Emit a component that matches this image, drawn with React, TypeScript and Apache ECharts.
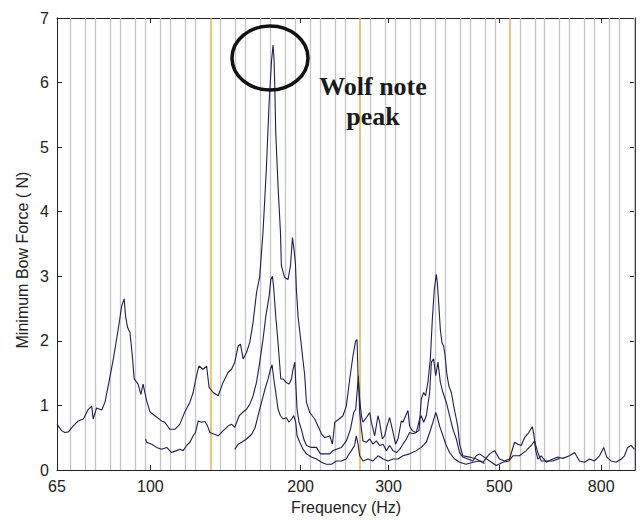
import React, { useEffect, useRef } from "react";
import * as echarts from "echarts";

// ---- axis settings ----
const X_MIN = 65;
const X_MAX = 935;
const xTickLabels = [65, 100, 200, 300, 500, 800];
const Y_MIN = 0;
const Y_MAX = 7;

// ---- data: [frequency (Hz), minimum bow force (N)] ----
const curveA: [number, number][] = [
  [65, 0.71], [66.4, 0.61], [67.4, 0.58], [68.5, 0.59], [70.0, 0.68], [71.7, 0.76], [73.4, 0.79],
  [75.1, 0.94], [76.3, 0.99], [76.8, 0.79], [78.0, 0.96], [79.9, 0.93], [81.1, 1.05], [82.3, 1.3],
  [84.3, 1.72], [86.2, 2.18], [87.6, 2.54], [88.6, 2.65], [89.2, 2.38], [90.0, 2.21], [91.0, 2.13],
  [92.0, 1.77], [92.8, 1.41], [94.5, 1.33], [95.7, 1.17], [96.7, 1.33], [97.5, 1.2], [98.3, 1.07],
  [99.8, 0.9], [102.1, 0.84], [105.3, 0.76], [106.9, 0.74], [109.4, 0.63], [112.0, 0.63], [114.6, 0.71],
  [117.2, 0.9], [120.0, 1.05], [121.8, 1.2], [123.7, 1.46], [125.1, 1.61], [127.5, 1.56], [129.6, 1.61],
  [131.1, 1.28], [133.6, 1.2], [136.7, 1.15], [139.9, 1.36], [143.1, 1.51], [145.4, 1.56], [147.6, 1.67],
  [149.9, 1.92], [151.5, 1.95], [153.4, 1.72], [155.8, 1.82], [158.2, 1.98], [160.6, 2.29], [163.2, 2.75],
  [165.6, 3.0], [168.1, 3.68], [170.7, 4.65], [172.9, 5.68], [174.9, 6.35], [176.1, 6.58], [176.9, 6.35],
  [177.5, 5.94], [178.3, 5.22], [180.2, 4.39], [182.2, 3.68], [183.0, 3.16], [185.8, 2.98], [188.7, 2.95],
  [190.8, 3.16], [192.6, 3.6], [193.9, 3.42], [195.2, 3.21], [196.1, 2.8], [197.6, 2.38], [200.7, 1.92],
  [203.8, 1.46], [205.4, 1.05], [208.6, 0.89], [213.4, 0.79], [216.7, 0.68], [220.1, 0.56], [223.4, 0.5],
  [228.7, 0.53], [231.5, 0.4], [234.1, 0.74], [238.7, 0.79], [243.1, 0.84], [246.9, 0.99], [250.8, 1.41],
  [254.6, 1.77], [257.8, 2.0], [259.4, 2.02], [260.6, 1.46], [262.6, 1.1], [264.7, 0.84], [266.6, 0.74],
  [270.8, 0.81], [275.0, 0.89], [277.1, 0.74], [281.4, 0.53], [285.7, 0.84], [287.9, 0.74], [291.5, 0.48],
  [294.6, 0.53], [297.8, 0.68], [301.5, 0.81], [305.3, 0.63], [309.9, 0.4], [313.3, 0.48], [318.2, 0.76],
  [320.6, 0.74], [324.6, 0.84], [328.1, 0.92], [330.6, 0.68], [334.7, 0.61], [339.9, 0.58], [345.2, 0.61],
  [348.9, 1.1], [352.7, 1.2], [355.9, 1.15], [359.7, 1.36], [363.8, 1.72], [367.1, 2.33], [370.5, 2.8],
  [373.9, 3.03], [375.7, 2.9], [378.0, 2.59], [380.9, 2.18], [383.8, 1.97], [386.8, 1.92], [389.1, 1.79],
  [392.6, 1.48], [396.3, 1.3], [400.8, 1.2], [405.2, 0.99], [410.1, 0.79], [413.1, 0.66], [416.3, 0.4],
  [422.7, 0.22], [436.0, 0.2], [449.4, 0.17], [463.6, 0.12], [478.1, 0.25], [489.3, 0.3], [500.6, 0.17],
  [512.3, 0.14], [524.2, 0.17], [536.4, 0.43], [544.7, 0.4], [553.2, 0.38], [561.7, 0.5], [572.9, 0.58],
  [581.9, 0.67], [586.3, 0.56], [591.3, 0.3], [597.3, 0.17], [606.6, 0.22], [621.0, 0.12], [640.0, 0.17],
  [654.9, 0.2], [670.2, 0.18], [691.2, 0.22], [707.6, 0.27], [723.8, 0.14], [740.9, 0.12], [757.9, 0.17],
  [775.6, 0.14], [793.7, 0.22], [809.5, 0.35], [820.8, 0.2], [837.7, 0.14], [857.2, 0.12], [877.1, 0.17],
  [890.6, 0.22], [904.2, 0.35], [918.5, 0.38], [932.5, 0.32],
];

const curveB: [number, number][] = [
  [97.8, 0.48], [98.3, 0.43], [100.6, 0.4], [102.9, 0.35], [105.3, 0.32], [107.8, 0.35], [110.3, 0.27],
  [112.8, 0.3], [114.6, 0.32], [116.3, 0.3], [118.2, 0.38], [120.0, 0.43], [121.8, 0.53], [123.1, 0.58],
  [124.7, 0.76], [126.6, 0.74], [128.6, 0.75], [130.2, 0.68], [131.6, 0.58], [133.6, 0.56], [136.7, 0.53],
  [139.9, 0.61], [143.1, 0.68], [145.4, 0.71], [147.6, 0.66], [150.6, 0.84], [152.9, 0.89], [155.8, 0.94],
  [158.2, 1.02], [160.6, 1.15], [163.2, 1.36], [165.6, 1.67], [168.1, 2.02], [170.3, 2.38], [172.9, 2.69],
  [174.3, 2.95], [175.6, 3.0], [176.7, 2.8], [178.3, 2.38], [179.7, 2.08], [181.0, 1.77], [182.5, 1.41],
  [184.4, 1.41], [186.8, 1.36], [189.6, 1.33], [191.7, 1.41], [193.1, 1.56], [194.7, 1.67], [195.5, 1.36],
  [196.7, 0.94], [198.5, 0.74], [200.7, 0.63], [202.9, 0.48], [205.4, 0.38], [210.2, 0.35], [215.1, 0.35],
  [219.1, 0.25], [223.4, 0.25], [228.7, 0.25], [232.2, 0.3], [235.8, 0.32], [241.4, 0.35], [246.9, 0.45],
  [251.6, 0.63], [255.4, 0.89], [257.8, 0.94], [259.4, 1.2], [261.0, 1.46], [262.6, 0.89], [264.7, 0.63],
  [266.6, 0.45], [270.8, 0.43], [275.0, 0.48], [279.3, 0.4], [283.6, 0.45], [287.9, 0.38], [292.5, 0.4],
  [297.0, 0.3], [301.5, 0.38], [306.2, 0.3], [311.0, 0.27], [315.8, 0.32], [320.6, 0.4], [325.7, 0.48],
  [330.6, 0.58], [335.7, 0.56], [340.9, 0.58], [346.3, 0.79], [348.9, 0.84], [352.7, 0.74], [357.1, 0.84],
  [362.6, 1.2], [365.5, 1.67], [369.3, 1.72], [372.9, 1.46], [376.8, 1.67], [380.9, 1.36], [385.5, 1.2],
  [391.5, 1.05], [397.6, 0.84], [403.8, 0.63], [410.1, 0.48], [416.3, 0.27], [422.7, 0.2], [432.6, 0.17],
  [442.7, 0.14], [449.4, 0.22], [456.6, 0.25], [478.1, 0.14], [493.0, 0.07], [508.4, 0.12], [522.5, 0.14],
  [532.3, 0.22], [548.9, 0.22], [566.0, 0.3], [579.3, 0.38], [588.3, 0.45], [597.3, 0.27], [606.6, 0.14],
  [640.0, 0.14], [660.1, 0.18],
];

const curveC: [number, number][] = [
  [147.6, 0.32], [149.9, 0.4], [152.3, 0.43], [155.8, 0.48], [159.4, 0.55], [162.0, 0.65], [164.3, 0.84],
  [167.0, 1.05], [169.6, 1.25], [172.1, 1.41], [174.0, 1.56], [175.3, 1.63], [176.7, 1.41], [178.3, 1.2],
  [180.2, 0.94], [182.2, 0.84], [184.4, 0.79], [187.3, 0.81], [189.6, 0.74], [191.7, 0.79], [193.7, 0.84],
  [195.5, 0.74], [196.7, 0.53], [199.2, 0.43], [202.2, 0.32], [205.4, 0.25], [210.2, 0.2], [215.1, 0.17],
  [220.1, 0.12], [225.2, 0.09], [230.5, 0.09], [235.8, 0.14], [241.4, 0.14], [246.9, 0.17], [248.8, 0.22],
  [252.7, 0.3], [256.5, 0.38], [258.5, 0.53], [260.6, 0.4], [262.6, 0.22], [266.6, 0.14], [272.8, 0.17],
  [279.3, 0.14], [285.7, 0.22], [292.5, 0.17], [299.2, 0.14], [306.2, 0.17], [313.3, 0.17], [320.6, 0.22],
  [330.6, 0.25], [340.9, 0.3], [348.9, 0.35], [357.1, 0.43], [362.6, 0.58], [368.1, 0.74], [372.9, 0.89],
  [375.0, 0.84], [379.7, 0.68], [385.5, 0.53], [391.5, 0.38], [397.6, 0.27], [406.8, 0.17], [416.3, 0.12],
  [429.0, 0.09], [442.7, 0.12], [456.6, 0.14], [467.1, 0.1],
];

// musical semitone grid (A4 = 440 Hz), C notes highlighted
const semitoneSteps: number[] = [];
for (let n = -33; n <= 13; n++) semitoneSteps.push(n);

const FONT = "'Liberation Sans', Arial, Helvetica, sans-serif";
const SERIF = "'Liberation Serif', 'Times New Roman', serif";
const INK = "#1e1e50";

function buildOption() {
  const lg = (f: number) => Math.log10(f);
  const xMin = lg(X_MIN);
  const xMax = lg(X_MAX);
  const tickVals = xTickLabels.map(lg);
  const toSeries = (c: [number, number][]) => c.map(([f, v]) => [lg(f), v]);

  const gridLines = semitoneSteps
    .map((n) => ({ n, f: 440 * Math.pow(2, n / 12) }))
    .filter((d) => d.f > 66 && d.f < X_MAX)
    .map((d) => {
      const isC = (((d.n - 3) % 12) + 12) % 12 === 0;
      return {
        xAxis: lg(d.f),
        lineStyle: {
          color: isC ? "#e2b457" : "#c2c4ca",
          width: isC ? 1.5 : 1.3,
          type: "solid",
        },
      };
    });

  const axisCommon = {
    axisLine: { show: true, onZero: false, lineStyle: { color: "#222", width: 1 } },
    splitLine: { show: false },
  };

  const curveSeries = [curveA, curveB, curveC].map((c, i) => ({
    type: "line",
    name: "curve" + i,
    data: toSeries(c),
    showSymbol: false,
    symbol: "none",
    lineStyle: { color: INK, width: 1.1 },
    itemStyle: { color: INK },
    z: 5,
    silent: true,
  }));

  return {
    animation: false,
    backgroundColor: "#ffffff",
    textStyle: { fontFamily: FONT },
    grid: { left: 57, top: 18, width: 578, height: 453, containLabel: false },
    xAxis: [
      {
        type: "value",
        position: "bottom",
        min: xMin,
        max: xMax,
        ...axisCommon,
        axisTick: {
          show: true,
          inside: true,
          length: 5,
          customValues: tickVals,
          lineStyle: { color: "#222" },
        },
        axisLabel: {
          customValues: tickVals,
          formatter: (v: number) => String(Math.round(Math.pow(10, v))),
          color: "#222",
          fontSize: 16,
          fontFamily: FONT,
          margin: 8,
        },
        name: "Frequency (Hz)",
        nameLocation: "middle",
        nameGap: 29,
        nameTextStyle: { color: "#222", fontSize: 16, fontFamily: FONT },
      },
      {
        type: "value",
        position: "top",
        min: xMin,
        max: xMax,
        ...axisCommon,
        axisTick: {
          show: true,
          inside: true,
          length: 5,
          customValues: tickVals,
          lineStyle: { color: "#222" },
        },
        axisLabel: { show: false },
      },
    ],
    yAxis: [
      {
        type: "value",
        position: "left",
        min: Y_MIN,
        max: Y_MAX,
        interval: 1,
        ...axisCommon,
        axisTick: { show: true, inside: true, length: 5, lineStyle: { color: "#222" } },
        axisLabel: { color: "#222", fontSize: 16, fontFamily: FONT, margin: 8 },
      },
      {
        type: "value",
        position: "right",
        min: Y_MIN,
        max: Y_MAX,
        interval: 1,
        ...axisCommon,
        axisTick: { show: true, inside: true, length: 5, lineStyle: { color: "#222" } },
        axisLabel: { show: false },
      },
    ],
    series: [
      {
        type: "line",
        name: "grid",
        data: [],
        silent: true,
        z: 1,
        markLine: {
          silent: true,
          symbol: ["none", "none"],
          label: { show: false },
          animation: false,
          data: gridLines,
        },
      },
      ...curveSeries,
    ],
    graphic: [
      {
        type: "text",
        x: 22,
        y: 260,
        rotation: Math.PI / 2,
        style: {
          text: "Minimum Bow Force ( N)",
          fill: "#222",
          font: `16px ${FONT}`,
          align: "center",
          verticalAlign: "middle",
        },
      },
      {
        type: "ellipse",
        shape: { cx: 270, cy: 58, rx: 38, ry: 32 },
        style: { fill: "none", stroke: "#111", lineWidth: 3.5 },
        z: 100,
      },
      {
        type: "text",
        x: 373,
        y: 86,
        style: {
          text: "Wolf note",
          fill: "#1a1a1a",
          font: `bold 26px ${SERIF}`,
          align: "center",
          verticalAlign: "middle",
        },
        z: 100,
      },
      {
        type: "text",
        x: 373,
        y: 116,
        style: {
          text: "peak",
          fill: "#1a1a1a",
          font: `bold 26px ${SERIF}`,
          align: "center",
          verticalAlign: "middle",
        },
        z: 100,
      },
    ],
  };
}

export default function App() {
  const ref = useRef<HTMLDivElement>(null);
  useEffect(() => {
    if (!ref.current) return;
    const chart = echarts.init(ref.current, null, { renderer: "svg" });
    chart.setOption(buildOption() as any);
    return () => chart.dispose();
  }, []);
  return (
    <div
      ref={ref}
      style={{ position: "fixed", left: 0, top: 0, width: 642, height: 520, background: "#fff" }}
    />
  );
}
